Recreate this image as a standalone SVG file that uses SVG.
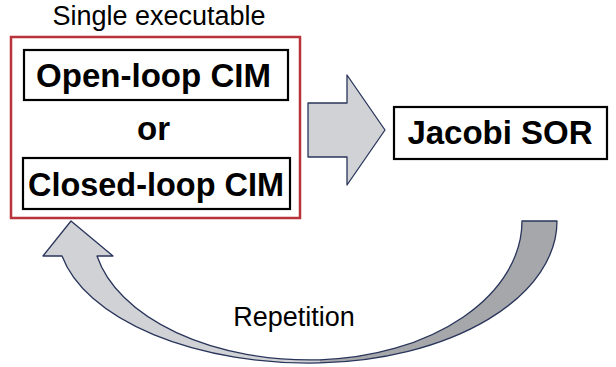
<svg xmlns="http://www.w3.org/2000/svg" width="616" height="367" viewBox="0 0 616 367">
  <style>
    .label { font-family: "Liberation Sans", Arial, sans-serif; fill: #000; }
    .bold { font-weight: bold; }
    .box { fill: #fff; stroke: #000; stroke-width: 2.2; }
    .outline { fill: none; stroke: #28345a; stroke-width: 1.3; stroke-linejoin: round; }
    .light { fill: #d1d2d5; }
    .dark { fill: #a6a7ab; }
  </style>
  <rect width="616" height="367" fill="#fff"/>

  <!-- executable container -->
  <g id="single-executable">
    <rect x="11" y="37" width="289" height="181" fill="none" stroke="#b8333b" stroke-width="2.5"/>
    <text class="label" x="159" y="25" font-size="27" text-anchor="middle">Single executable</text>
  </g>

  <g id="open-loop-cim">
    <rect class="box" x="24" y="50" width="264" height="50"/>
    <text class="label bold" x="36" y="87" font-size="34" textLength="235" lengthAdjust="spacingAndGlyphs">Open-loop CIM</text>
  </g>

  <g id="or-label">
    <text class="label bold" x="153.5" y="140" font-size="33" text-anchor="middle">or</text>
  </g>

  <g id="closed-loop-cim">
    <rect class="box" x="23" y="158" width="267" height="51"/>
    <text class="label bold" x="28" y="196" font-size="34" textLength="256" lengthAdjust="spacingAndGlyphs">Closed-loop CIM</text>
  </g>

  <g id="jacobi-sor">
    <rect class="box" x="394" y="107" width="213" height="52"/>
    <text class="label bold" x="500" y="144" font-size="33" text-anchor="middle">Jacobi SOR</text>
  </g>

  <g id="connectors">
    <!-- block arrow into the solver -->
    <path class="outline light" d="M308,103 H347 V75 L385,130 L347,185 V157 H308 Z"/>
    <!-- repetition loop: back side rising to the tail -->
    <path class="dark" d="M320,362.9 A247,142 0 0,0 557,221 H522 A212,139 0 0,1 320,359.8 Z"/>
    <!-- repetition loop: front side ending in the head -->
    <path class="light" d="M62,256 A252,133 0 0,0 320,362.9 L320,359.9 A217,130 0 0,1 97,256 H113 L71,221 L43,256 Z"/>
    <!-- loop outline, drawn without the seam between the two sides -->
    <path class="outline" d="M62,256 A252,133 0 0,0 320,362.9 A247,142 0 0,0 557,221 H522 A212,139 0 0,1 320,359.8 A217,130 0 0,1 97,256 H113 L71,221 L43,256 Z"/>
    <text class="label" x="294" y="326" font-size="27" text-anchor="middle">Repetition</text>
  </g>
</svg>
